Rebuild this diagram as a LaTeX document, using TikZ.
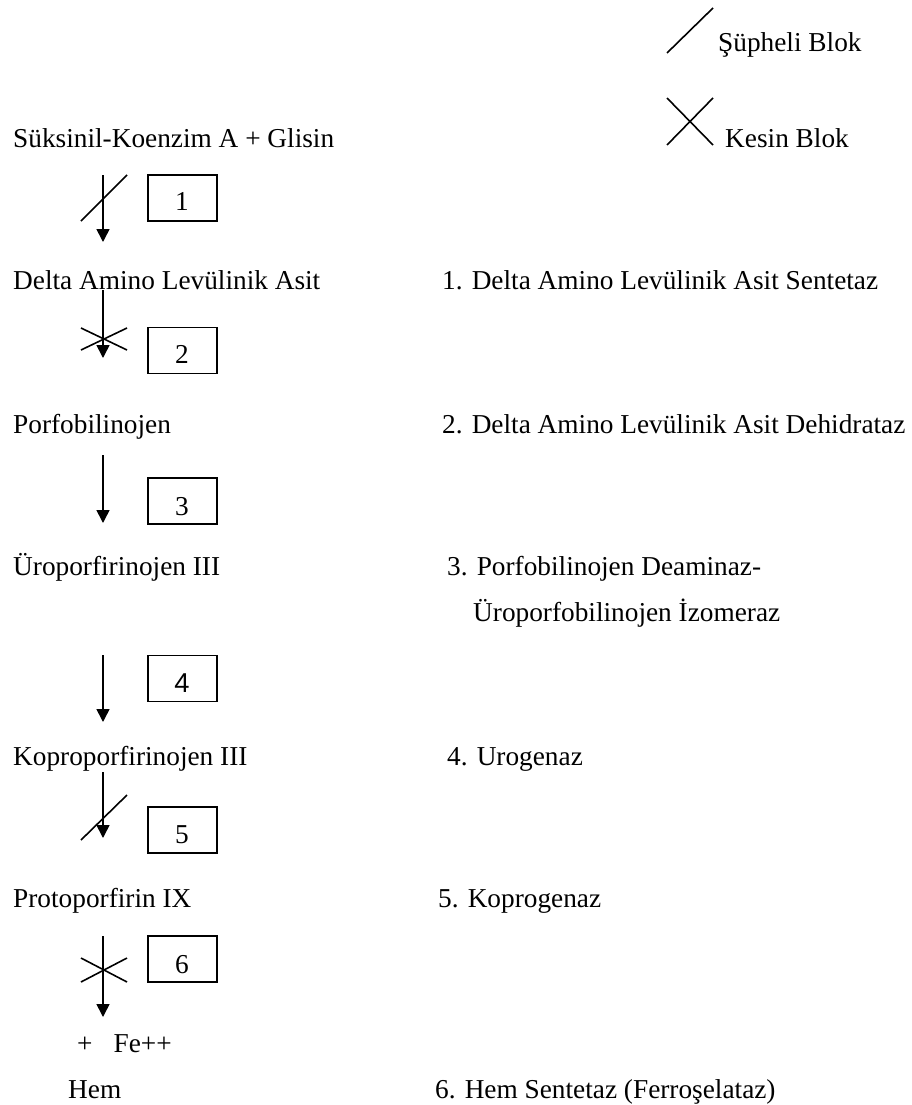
\documentclass[tikz,border=0pt]{standalone}
\usepackage{fontspec}
\setmainfont{Liberation Serif}
\newfontfamily\sansnum{Liberation Sans}
\usetikzlibrary{arrows.meta}
\begin{document}
\begin{tikzpicture}[x=1pt,y=-1pt,
  txt/.style={anchor=base west, inner sep=0pt, font=\fontsize{27.3}{32}\selectfont},
  num/.style={anchor=base, inner sep=0pt, font=\fontsize{27.3}{32}\selectfont},
  numbox/.style={draw, line width=1.8pt, minimum width=69pt, minimum height=46pt, inner sep=0pt},
  flow/.style={line width=1.6pt, -{Triangle[length=13pt,width=13pt]}},
  blockline/.style={line width=1.6pt}]
\useasboundingbox (0,0) rectangle (911,1105);

% legend
\coordinate (ls1) at (667,53); \coordinate (ls2) at (713,8);
\draw[blockline] (ls1) -- (ls2);
\node[txt] (lsupheli) at (718,52) {Şüpheli Blok};
\coordinate (lx1) at (667,98); \coordinate (lx2) at (713,145);
\coordinate (lx3) at (667,145); \coordinate (lx4) at (713,98);
\draw[blockline] (lx1) -- (lx2) (lx3) -- (lx4);
\node[txt] (lkesin) at (725,147) {Kesin Blok};

% left column compounds
\node[txt] (c0) at (13,147) {Süksinil-Koenzim A + Glisin};
\node[txt] (c1) at (13,289) {Delta Amino Levülinik Asit};
\node[txt] (c2) at (13,433) {Porfobilinojen};
\node[txt] (c3) at (13,575) {Üroporfirinojen III};
\node[txt] (c4) at (13,765) {Koproporfirinojen III};
\node[txt] (c5) at (13,907) {Protoporfirin IX};
\node[txt] (fe) at (77,1052) {+\hspace{21pt}Fe++};
\node[txt] (hem) at (68,1098) {Hem};

% right column enzymes
\node[txt] (e1) at (442,289) {1. Delta Amino Levülinik Asit Sentetaz};
\node[txt] (e2) at (442,433) {2. Delta Amino Levülinik Asit Dehidrataz};
\node[txt] (e3) at (447,575) {3. Porfobilinojen Deaminaz-};
\node[txt] (e3b) at (473,621) {Üroporfobilinojen İzomeraz};
\node[txt] (e4) at (447,765) {4. Urogenaz};
\node[txt] (e5) at (438,907) {5. Koprogenaz};
\node[txt] (e6) at (435,1098) {6. Hem Sentetaz (Ferroşelataz)};

% numbered boxes
\node[numbox] (b1) at (182.5,198) {};
\node[num] (n1) at (182,210) {1};
\node[numbox] (b2) at (182.5,350.5) {};
\node[num] (n2) at (182,363) {2};
\node[numbox] (b3) at (182.5,501) {};
\node[num] (n3) at (182,515) {3};
\node[numbox] (b4) at (182.5,678.5) {};
\node[num,font=\fontsize{27.3}{32}\sansnum] (n4) at (182,692) {4};
\node[numbox] (b5) at (182.5,830) {};
\node[num] (n5) at (182,843) {5};
\node[numbox] (b6) at (182.5,959) {};
\node[num] (n6) at (182,973) {6};

% arrows
\coordinate (a1s) at (103,175); \coordinate (a1e) at (103,242);
\coordinate (a2s) at (103,290); \coordinate (a2e) at (103,358);
\coordinate (a3s) at (103,455); \coordinate (a3e) at (103,523);
\coordinate (a4s) at (103,655); \coordinate (a4e) at (103,722);
\coordinate (a5s) at (103,772); \coordinate (a5e) at (103,838);
\coordinate (a6s) at (103,936); \coordinate (a6e) at (103,1017);
\draw[flow] (a1s) -- (a1e);
\draw[flow] (a2s) -- (a2e);
\draw[flow] (a3s) -- (a3e);
\draw[flow] (a4s) -- (a4e);
\draw[flow] (a5s) -- (a5e);
\draw[flow] (a6s) -- (a6e);

% block marks on arrows
\coordinate (s1a) at (81,221); \coordinate (s1b) at (127,175);
\draw[blockline] (s1a) -- (s1b);
\coordinate (x2a) at (81,328); \coordinate (x2b) at (127,350);
\coordinate (x2c) at (81,350); \coordinate (x2d) at (127,328);
\draw[blockline] (x2a) -- (x2b) (x2c) -- (x2d);
\coordinate (s5a) at (81,840); \coordinate (s5b) at (127,795);
\draw[blockline] (s5a) -- (s5b);
\coordinate (x6a) at (81,958); \coordinate (x6b) at (127,982);
\coordinate (x6c) at (81,982); \coordinate (x6d) at (127,958);
\draw[blockline] (x6a) -- (x6b) (x6c) -- (x6d);
\end{tikzpicture}
\end{document}
